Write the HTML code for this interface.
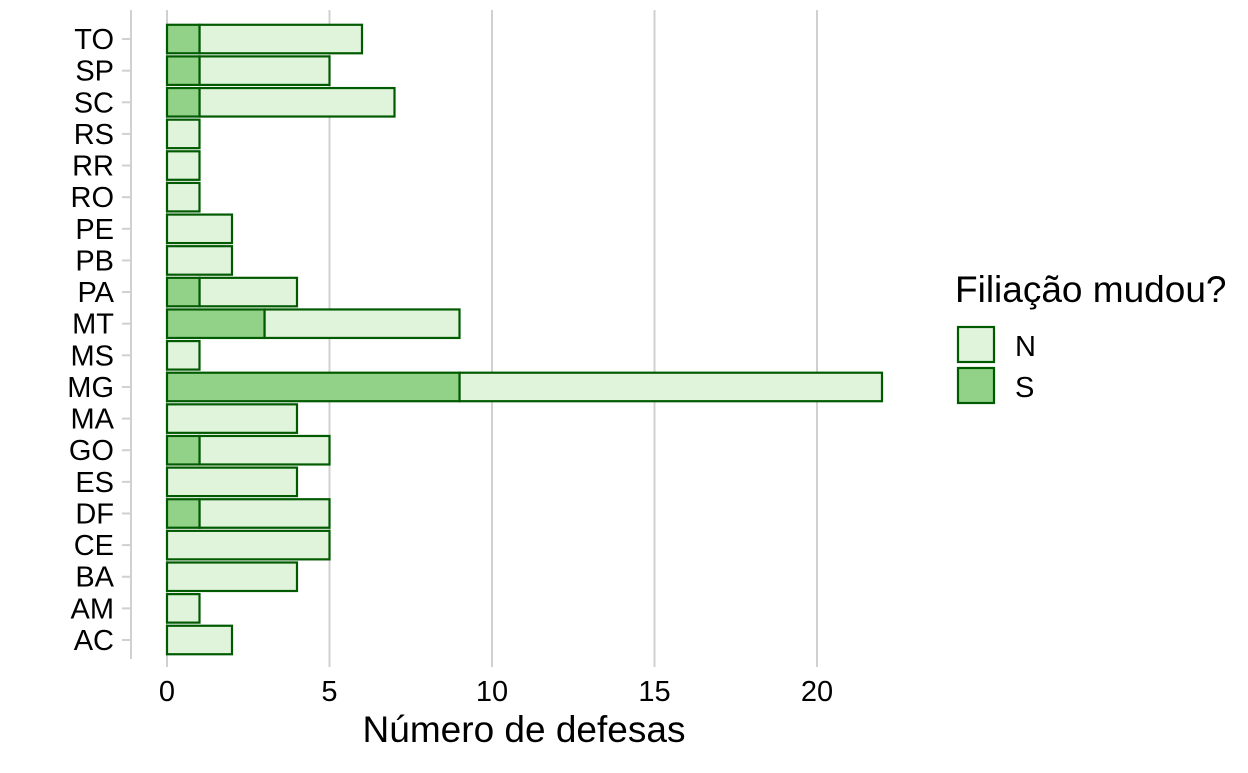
<!DOCTYPE html>
<html><head><meta charset="utf-8"><style>
body{margin:0;background:#fff;}
svg text{font-family:"Liberation Sans",Arial,sans-serif;}
</style></head><body>
<svg id="chart" width="1248" height="768" xmlns="http://www.w3.org/2000/svg">
<g id="grid"></g>
<g id="yaxis"></g>
<g id="xaxis"></g>
<g id="bars"></g>
<text x="524" y="742" font-size="37" text-anchor="middle" fill="#000">Número de defesas</text>
<g>
<text x="955" y="302" font-size="37" fill="#000">Filiação mudou?</text>
<g>
<rect x="958" y="327" width="36" height="35" fill="#e0f3db" stroke="#005a00" stroke-width="2.2"/>
<text x="1015" y="356" font-size="29" fill="#000">N</text></g>
<g>
<rect x="958" y="368" width="36" height="35" fill="#91d288" stroke="#005a00" stroke-width="2.2"/>
<text x="1015" y="397" font-size="29" fill="#000">S</text></g>
</g>
</svg>
<script>
const states=["AC","AM","BA","CE","DF","ES","GO","MA","MG","MS","MT","PA","PB","PE","RO","RR","RS","SC","SP","TO"];
const totalN=[2,1,4,5,4,4,4,4,13,1,6,3,2,2,1,1,1,6,4,5];
const valuesS=[0,0,0,0,1,0,1,0,9,0,3,1,0,0,0,0,0,1,1,1];
const xTicks=[0,5,10,15,20];
const NS="http://www.w3.org/2000/svg";
const x=v=>167+v*32.5;
const yc=i=>640-i*31.63;
function mk(tag,attrs,parent){const e=document.createElementNS(NS,tag);for(const k in attrs)e.setAttribute(k,attrs[k]);parent.appendChild(e);return e;}
const grid=document.getElementById('grid'),xa=document.getElementById('xaxis'),ya=document.getElementById('yaxis'),bars=document.getElementById('bars');
xTicks.forEach(t=>{
 const g=mk('line',{x1:x(t),x2:x(t),y1:10,y2:667,stroke:'#d0d0d0','stroke-width':2},grid);
 
 
 const tx=mk('text',{x:x(t),y:701,'font-size':29,'text-anchor':'middle',fill:'#000'},xa);
 tx.textContent=t;
 
 
});
mk('line',{x1:131,x2:131,y1:10,y2:659,stroke:'#d0d0d0','stroke-width':2},ya);
states.forEach((s,i)=>{
 const y=yc(i);
 mk('line',{x1:122,x2:131,y1:y,y2:y,stroke:'#d0d0d0','stroke-width':2},ya);
 const tx=mk('text',{x:114,y:y+10,'font-size':29,'text-anchor':'end',fill:'#000'},ya);
 tx.textContent=s;
 
 
 const h=28.5,top=y-h/2;
 const sv=valuesS[i],nv=totalN[i];
 if(nv>0){const r=mk('rect',{x:x(sv),y:top,width:x(sv+nv)-x(sv),height:h,fill:'#e0f3db',stroke:'#005a00','stroke-width':2.2},bars);
 
 }
 if(sv>0){const r=mk('rect',{x:x(0),y:top,width:x(sv)-x(0),height:h,fill:'#91d288',stroke:'#005a00','stroke-width':2.2},bars);
 
 }
});
</script>
</body></html>
